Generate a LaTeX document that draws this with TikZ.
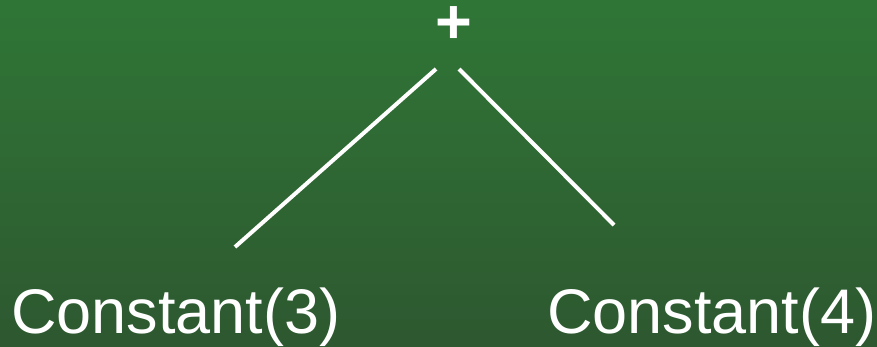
\documentclass[tikz,border=0pt]{standalone}
\usepackage{fontspec}
\setmainfont{Liberation Sans}
\definecolor{bgtop}{RGB}{47,118,54}
\definecolor{bgbot}{RGB}{46,88,48}
\begin{document}
\begin{tikzpicture}[x=1pt,y=-1pt,
  lbl/.style={text=white,font=\fontsize{63}{63}\selectfont,inner sep=0pt,anchor=base west},
  edge/.style={draw=white,line width=4pt}]
\shade[top color=bgtop,bottom color=bgbot] (0,0) rectangle (877,347);
\useasboundingbox (0,0) rectangle (877,347);
\node[text=white,font=\fontsize{63}{63}\selectfont\bfseries,inner sep=0pt] (plus) at (454,25) {+};
\node[lbl] (c3) at (11,333) {Constant(3)};
\node[lbl] (c4) at (547,333) {Constant(4)};
\coordinate (l1) at (436,69);
\coordinate (l2) at (235,247);
\coordinate (r1) at (459,69);
\coordinate (r2) at (614,225);
\draw[edge] (l1) -- (l2);
\draw[edge] (r1) -- (r2);
\end{tikzpicture}
\end{document}
